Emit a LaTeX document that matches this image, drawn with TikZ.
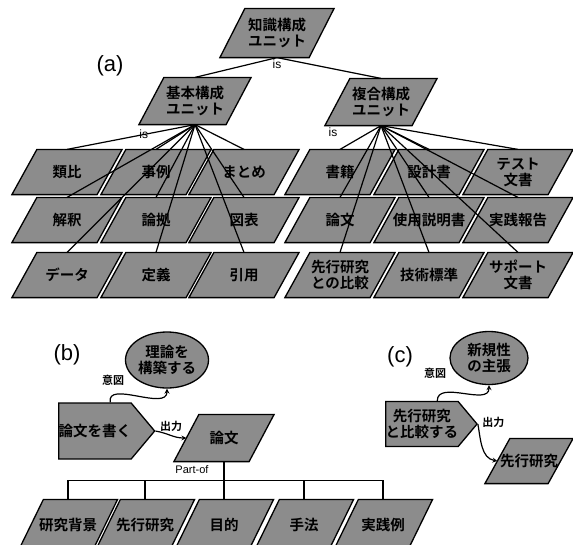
\documentclass[tikz,border=0pt]{standalone}
\usepackage{fontspec}
\setmainfont{Liberation Sans}
\newfontfamily\jp{Noto Sans CJK JP}[BoldFont={Noto Sans CJK JP Bold}]
\usetikzlibrary{shapes.geometric, shapes.symbols, calc, positioning, backgrounds}

\tikzset{
	unit/.style={rectangle, inner sep=0pt, minimum width=84pt, minimum height=44pt,
		align=center, font=\jp\bfseries\fontsize{14.5}{16}\selectfont},
	unitpath/.style={draw, line width=1.3pt, fill=black!45, line join=miter},
	goal/.style={ellipse, draw, line width=1.3pt, fill=black!45, inner sep=0pt,
		align=center, font=\jp\bfseries\fontsize{14.5}{16}\selectfont},
	task/.style={signal, signal to=east, signal pointer angle=100, draw,
		line width=1.3pt, fill=black!45, inner sep=0pt, align=center,
		font=\jp\bfseries\fontsize{14.5}{16}\selectfont},
	lab/.style={inner sep=1pt, font=\fontsize{12}{13}\selectfont},
	jlab/.style={inner sep=1pt, font=\jp\bfseries\fontsize{11}{12}\selectfont},
	tag/.style={inner sep=0pt, font=\fontsize{22}{24}\selectfont}
}

\begin{document}
\begin{tikzpicture}[x=1pt, y=-1pt, line width=1.2pt]
			\useasboundingbox (0,0) rectangle (573,544);

			\def\rA{172};
			\def\rB{220};
			\def\rC{275};
			\def\e{12.5pt};

			% (a)
			\begin{scope}
				\node[tag] (taga) at (110,66) {(a)};
				\node[unit, minimum width=88pt, minimum height=48pt] (chishiki) at (277,33) {知識構成\\ユニット};
				\node[unit, minimum width=86pt, minimum height=46pt] (kihon) at (195,101) {基本構成\\ユニット};
				\node[unit, minimum width=86pt, minimum height=46pt] (fukugo) at (381,102) {複合構成\\ユニット};

				\node[unit] (ruihi) at (67,\rA) {類比};
				\node[unit] (jirei) at (156,\rA) {事例};
				\node[unit] (matome) at (244,\rA) {まとめ};
				\node[unit] (kaishaku) at (67,\rB) {解釈};
				\node[unit] (ronkyo) at (156,\rB) {論拠};
				\node[unit] (zuhyo) at (244,\rB) {図表};
				\node[unit] (deta) at (67,\rC) {データ};
				\node[unit] (teigi) at (156,\rC) {定義};
				\node[unit] (inyo) at (244,\rC) {引用};

				\node[unit] (shoseki) at (340,\rA) {書籍};
				\node[unit] (sekkei) at (429,\rA) {設計書};
				\node[unit] (tesuto) at (518,\rA) {テスト\\文書};
				\node[unit] (ronbun) at (340,\rB) {論文};
				\node[unit] (shiyo) at (429,\rB) {使用説明書};
				\node[unit] (jissen) at (518,\rB) {実践報告};
				\node[unit] (hikakuA) at (340,\rC) {先行研究\\との比較};
				\node[unit] (gijutsu) at (429,\rC) {技術標準};
				\node[unit] (sapoto) at (518,\rC) {サポート\\文書};
			\end{scope}

			\begin{scope}
				\draw (chishiki.south) -- (kihon.north);
				\draw (chishiki.south) -- (fukugo.north);
				\node[lab, below=1pt] (isA) at (chishiki.south) {is};
				\draw (kihon.south) -- node[lab, pos=0.4] (isB) {is} (ruihi.north);
				\foreach \c in {jirei, matome, kaishaku, ronkyo, zuhyo, deta, teigi, inyo}
				{
					\draw (kihon.south) -- (\c.north);
				}
				\draw (fukugo.south) -- (shoseki.north);
				\node[lab] (isC) at (333,132) {is};
				\foreach \c in {sekkei, tesuto, ronbun, shiyo, jissen, hikakuA, gijutsu, sapoto}
				{
					\draw (fukugo.south) -- (\c.north);
				}
			\end{scope}

			% (b)
			\begin{scope}
				\node[tag] (tagb) at (67,355) {(b)};
				\node[goal, minimum width=83pt, minimum height=56pt] (riron) at (167,360) {理論を\\構築する};
				\node[task, minimum width=92pt, minimum height=56pt, anchor=west] (kaku) at (58,431) {論文を書く};
				\node[unit, minimum width=74pt, minimum height=46pt] (ronbunB) at (224,438) {論文};

				\begin{scope}[every node/.append style={font=\jp\bfseries\fontsize{15.5}{17}\selectfont}]
					\node[unit, minimum width=73pt, minimum height=50pt] (haikei) at (68,525) {研究背景};
					\node[unit, minimum width=73pt, minimum height=50pt] (senkoB) at (145,525) {先行研究};
					\node[unit, minimum width=73pt, minimum height=50pt] (mokuteki) at (224,525) {目的};
					\node[unit, minimum width=73pt, minimum height=50pt] (shuho) at (304,525) {手法};
					\node[unit, minimum width=73pt, minimum height=50pt] (jissenrei) at (383,525) {実践例};
				\end{scope}

				\draw[-stealth] ($(kaku.north)!0.42!(kaku.north east)$) to[out=100, in=-90] (riron.south);
				\node[jlab] (itoB) at (113,380) {意図};
				\draw[-stealth] (kaku.east) to[out=-10, in=180] (ronbunB.west);
				\node[jlab, anchor=west] (shutsuB) at ([shift={(3,-5)}]kaku.east) {出力};

				\draw (ronbunB.south) -- ++(0,19) coordinate (bar);
				\node[lab, font=\fontsize{11}{12}\selectfont] (partof) at (192,470) {Part-of};
				\foreach \c in {haikei, senkoB, mokuteki, shuho, jissenrei}
				{
					\draw (bar) -| (\c.north);
				}
			\end{scope}

			% (c)
			\begin{scope}
				\node[tag] (tagc) at (400,357) {(c)};
				\node[goal, minimum width=78pt, minimum height=53pt] (shinki) at (489,358) {新規性\\の主張};
				\node[task, minimum width=88pt, minimum height=45pt, anchor=west] (hikaku) at (385,424) {先行研究\\と比較する};
				\node[unit, minimum width=62pt, minimum height=44pt] (senkoC) at (529,461) {先行研究};

				\draw[-stealth] ($(hikaku.north)!0.42!(hikaku.north east)$) to[out=90, in=-90] (shinki.south);
				\node[jlab] (itoC) at (435,373) {意図};
				\draw[-stealth] (hikaku.east) to[out=-80, in=170] (senkoC.west);
				\node[jlab, anchor=west] (shutsuC) at ([shift={(3,-2)}]hikaku.east) {出力};
			\end{scope}

			\begin{pgfonlayer}{background}
				\foreach \n in {chishiki, kihon, fukugo, ruihi, jirei, matome, kaishaku, ronkyo, zuhyo,
					deta, teigi, inyo, shoseki, sekkei, tesuto, ronbun, shiyo, jissen, hikakuA, gijutsu,
					sapoto, ronbunB, haikei, senkoB, mokuteki, shuho, jissenrei, senkoC}
				{
					\path[unitpath] ([xshift=-\e]\n.south west) -- ([xshift=-\e]\n.south east)
						-- ([xshift=\e]\n.north east) -- ([xshift=\e]\n.north west) -- cycle;
				}
			\end{pgfonlayer}
		\end{tikzpicture}
\end{document}
